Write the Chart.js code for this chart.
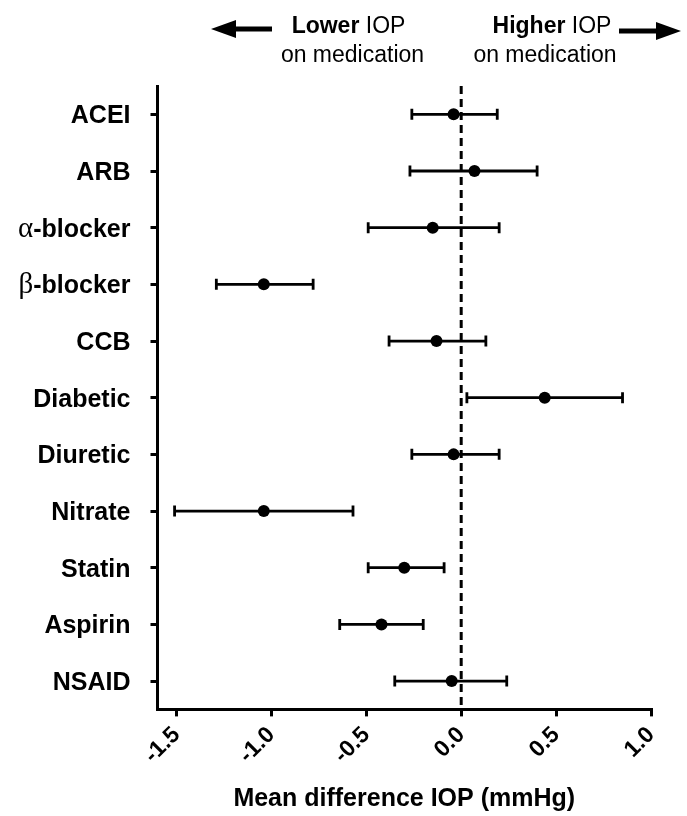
<!DOCTYPE html>
<html>
<head>
<meta charset="utf-8">
<script src="https://cdn.jsdelivr.net/npm/chart.js@4"></script>
<style>
  html, body { margin: 0; padding: 0; background: #fff; }
  #wrap { width: 687px; height: 816px; position: relative; }
</style>
</head>
<body>
<div id="wrap"><canvas id="forestChart"></canvas></div>
<script>
const drugs = ['ACEI', 'ARB', 'α-blocker', 'β-blocker', 'CCB', 'Diabetic', 'Diuretic', 'Nitrate', 'Statin', 'Aspirin', 'NSAID'];
const meanDiff = [-0.04, 0.07, -0.15, -1.04, -0.13, 0.44, -0.04, -1.04, -0.30, -0.42, -0.05];
const ciLower = [-0.26, -0.27, -0.49, -1.29, -0.38, 0.03, -0.26, -1.51, -0.49, -0.64, -0.35];
const ciUpper = [0.19, 0.40, 0.20, -0.78, 0.13, 0.85, 0.20, -0.57, -0.09, -0.20, 0.24];
const xTicks = [-1.5, -1.0, -0.5, 0.0, 0.5, 1.0];

const fam = "'Liberation Sans', Arial, sans-serif";

// dashed zero line, error bars, y labels and the header
const forestPlugin = {
  id: 'forest',
  beforeDatasetsDraw(chart) {
    const { ctx, chartArea, scales: { x, y } } = chart;
    const x0 = x.getPixelForValue(0);
    ctx.save();
    ctx.strokeStyle = '#000';
    ctx.lineWidth = 3;
    ctx.setLineDash([8, 5]);
    ctx.beginPath();
    ctx.moveTo(x0, chartArea.top);
    ctx.lineTo(x0, chartArea.bottom);
    ctx.stroke();
    ctx.setLineDash([]);
    ctx.lineWidth = 2.8;
    drugs.forEach((d, i) => {
      const py = y.getPixelForValue(i);
      const xl = x.getPixelForValue(ciLower[i]);
      const xr = x.getPixelForValue(ciUpper[i]);
      ctx.beginPath();
      ctx.moveTo(xl, py); ctx.lineTo(xr, py);
      ctx.moveTo(xl, py - 5.5); ctx.lineTo(xl, py + 5.5);
      ctx.moveTo(xr, py - 5.5); ctx.lineTo(xr, py + 5.5);
      ctx.stroke();
    });
    ctx.restore();
  },
  afterDraw(chart) {
    const { ctx, chartArea, scales: { y } } = chart;
    ctx.save();
    ctx.fillStyle = '#000';
    ctx.textBaseline = 'alphabetic';
    ctx.textAlign = 'left';
    const rightX = chartArea.left - 27;
    drugs.forEach((d, i) => {
      const py = y.getPixelForValue(i) + 9;
      let greek = '';
      let rest = d;
      if (/^[α-ω]/.test(d)) { greek = d[0]; rest = d.slice(1); }
      ctx.font = 'bold 25px ' + fam;
      const wb = ctx.measureText(rest).width;
      ctx.font = "29px 'Liberation Serif', serif";
      const wg = greek ? ctx.measureText(greek).width : 0;
      let sx = rightX - wb - wg;
      if (greek) { ctx.fillText(greek, sx, py); sx += wg; }
      ctx.font = 'bold 25px ' + fam;
      ctx.fillText(rest, sx, py);
    });

    // header: two-part first line, centred
    const header = (cx, boldWord, line2cx) => {
      ctx.font = 'bold 23px ' + fam;
      const w1 = ctx.measureText(boldWord).width;
      ctx.font = '23px ' + fam;
      const w2 = ctx.measureText(' IOP').width;
      let sx = cx - (w1 + w2) / 2;
      ctx.font = 'bold 23px ' + fam;
      ctx.fillText(boldWord, sx, 33);
      ctx.font = '23px ' + fam;
      ctx.fillText(' IOP', sx + w1, 33);
      ctx.textAlign = 'center';
      ctx.fillText('on medication', line2cx, 62);
      ctx.textAlign = 'left';
    };
    header(348.5, 'Lower', 352.5);
    header(552, 'Higher', 545);

    // arrows
    ctx.lineWidth = 5;
    ctx.strokeStyle = '#000';
    ctx.beginPath(); ctx.moveTo(272, 29); ctx.lineTo(232, 29); ctx.stroke();
    ctx.beginPath(); ctx.moveTo(211, 29); ctx.lineTo(236, 20); ctx.lineTo(236, 38); ctx.closePath(); ctx.fill();
    ctx.beginPath(); ctx.moveTo(619, 31); ctx.lineTo(660, 31); ctx.stroke();
    ctx.beginPath(); ctx.moveTo(681, 31); ctx.lineTo(656, 22); ctx.lineTo(656, 40); ctx.closePath(); ctx.fill();
    ctx.restore();
  }
};

const ctx = document.getElementById('forestChart').getContext('2d');
new Chart(ctx, {
  type: 'scatter',
  data: {
    datasets: [{
      label: 'Mean difference',
      data: meanDiff.map((v, i) => ({ x: v, y: i })),
      backgroundColor: '#000',
      borderColor: '#000',
      borderWidth: 0,
      pointRadius: 6,
      pointHoverRadius: 6
    }]
  },
  options: {
    responsive: true,
    maintainAspectRatio: false,
    animation: false,
    layout: { padding: { top: 86, right: 36, left: 0, bottom: 0 } },
    plugins: {
      legend: { display: false },
      tooltip: { enabled: false }
    },
    scales: {
      x: {
        type: 'linear',
        min: -1.6,
        max: 1.0,
        afterBuildTicks: s => { s.ticks = xTicks.map(v => ({ value: v })); },
        ticks: {
          autoSkip: false,
          maxRotation: 45,
          minRotation: 45,
          color: '#000',
          padding: 5,
          font: { family: fam, size: 23, weight: 'bold' },
          callback: v => Number(v).toFixed(1)
        },
        grid: { drawOnChartArea: false, drawTicks: true, tickLength: 7, color: '#000', lineWidth: 3 },
        border: { display: true, color: '#000', width: 3 },
        title: {
          display: true,
          text: 'Mean difference IOP (mmHg)',
          color: '#000',
          font: { family: fam, size: 25, weight: 'bold' },
          padding: { top: 0, bottom: 2 }
        },
        afterFit: s => { s.height = 106.6; }
      },
      y: {
        type: 'category',
        labels: drugs,
        offset: true,
        ticks: { display: false },
        grid: { drawOnChartArea: false, drawTicks: true, tickLength: 7, color: '#000', lineWidth: 3 },
        border: { display: true, color: '#000', width: 3 },
        afterFit: s => { s.width = 157.5; }
      }
    }
  },
  plugins: [forestPlugin]
});
</script>
</body>
</html>
